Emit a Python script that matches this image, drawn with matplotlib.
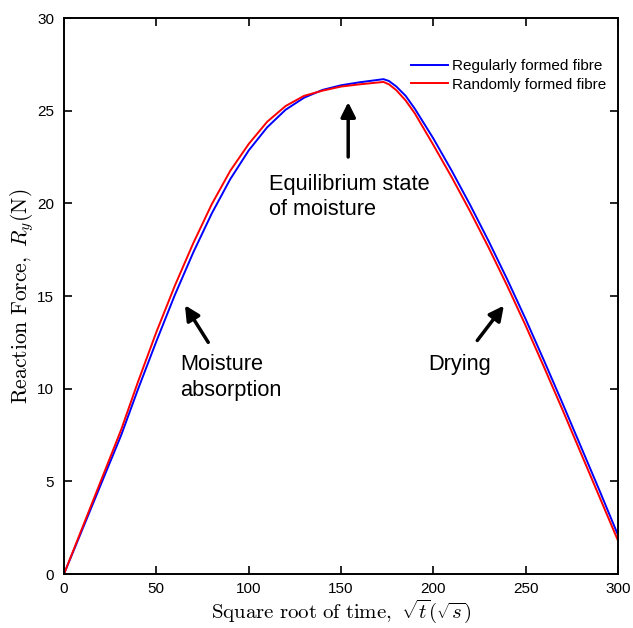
import matplotlib
matplotlib.use("Agg")
import matplotlib.pyplot as plt

plt.rcParams['font.family'] = ['Liberation Sans', 'DejaVu Sans']
plt.rcParams['mathtext.fontset'] = 'cm'

# Regularly formed fibre (blue)
x_regular = [0, 31, 40, 50, 60, 70, 80, 90, 100, 110, 120, 130, 140, 150, 160, 173,
             176, 180, 185, 190, 195, 200, 210, 220, 230, 240, 250, 260, 270, 280, 290, 300]
y_regular = [0, 7.5, 9.95, 12.55, 15.05, 17.35, 19.45, 21.3, 22.85, 24.1, 25.05, 25.7, 26.12, 26.37, 26.53, 26.7,
             26.6, 26.3, 25.8, 25.1, 24.3, 23.5, 21.75, 19.9, 17.95, 15.9, 13.75, 11.5, 9.2, 6.85, 4.5, 2.1]

# Randomly formed fibre (red)
x_random = [0, 31, 40, 50, 60, 70, 80, 90, 100, 110, 120, 130, 140, 150, 160, 173,
            176, 180, 185, 190, 195, 200, 210, 220, 230, 240, 250, 260, 270, 280, 290, 300]
y_random = [0, 7.8, 10.35, 13.05, 15.55, 17.85, 19.95, 21.75, 23.2, 24.4, 25.25, 25.8, 26.08, 26.3, 26.42, 26.55,
            26.42, 26.1, 25.55, 24.85, 24.0, 23.15, 21.4, 19.55, 17.6, 15.55, 13.4, 11.15, 8.85, 6.5, 4.15, 1.8]

series_labels = ['Regularly formed fibre', 'Randomly formed fibre']
x_ticks = [0, 50, 100, 150, 200, 250, 300]
y_ticks = [0, 5, 10, 15, 20, 25, 30]

fig = plt.figure(figsize=(6.33, 6.28), dpi=100)
ax = fig.add_axes([64/633, 1 - 574/628, (618-64)/633, (574-18)/628])

ax.plot(x_regular, y_regular, color='#0000ff', lw=1.4, label=series_labels[0])
ax.plot(x_random, y_random, color='#ff0000', lw=1.4, label=series_labels[1])

ax.set_xlim(0, 300)
ax.set_ylim(0, 30)
ax.set_xticks(x_ticks)
ax.set_yticks(y_ticks)
ax.tick_params(direction='in', length=6, width=1.2, labelsize=11, top=True, right=True, pad=7)
ax.tick_params(axis='x', pad=6)
for s in ax.spines.values():
    s.set_linewidth(1.4)

ax.set_xlabel(r'$\mathrm{Square\ root\ of\ time,}\ \sqrt{t}(\sqrt{s})$', fontsize=15, labelpad=1)
ax.set_ylabel(r'$\mathrm{Reaction\ Force,}\ R_y(\mathrm{N})$', fontsize=15.5, labelpad=1)

leg = ax.legend(loc='upper right', bbox_to_anchor=(0.978, 0.926), frameon=False, fontsize=11,
                handlelength=2.4, handletextpad=0.25, labelspacing=0.3, borderpad=0, borderaxespad=0)

arrow_kw = dict(arrowstyle='-|>', lw=2.5, mutation_scale=22, color='black', shrinkA=0, shrinkB=0)
ax.annotate('', xy=(153.9, 25.46), xytext=(153.9, 22.5), arrowprops=arrow_kw)
ax.annotate('', xy=(65.5, 14.5), xytext=(78.1, 12.5), arrowprops=arrow_kw)
ax.annotate('', xy=(238.2, 14.48), xytext=(223.8, 12.6), arrowprops=arrow_kw)

ax.text(111.0, 21.6, 'Equilibrium state\nof moisture', fontsize=15.7, ha='left', va='top', linespacing=1.3)
ax.text(62.8, 11.85, 'Moisture\nabsorption', fontsize=15.7, ha='left', va='top', linespacing=1.3)
ax.text(197.1, 11.85, 'Drying', fontsize=15.7, ha='left', va='top')

fig.savefig('out.png', dpi=100)
